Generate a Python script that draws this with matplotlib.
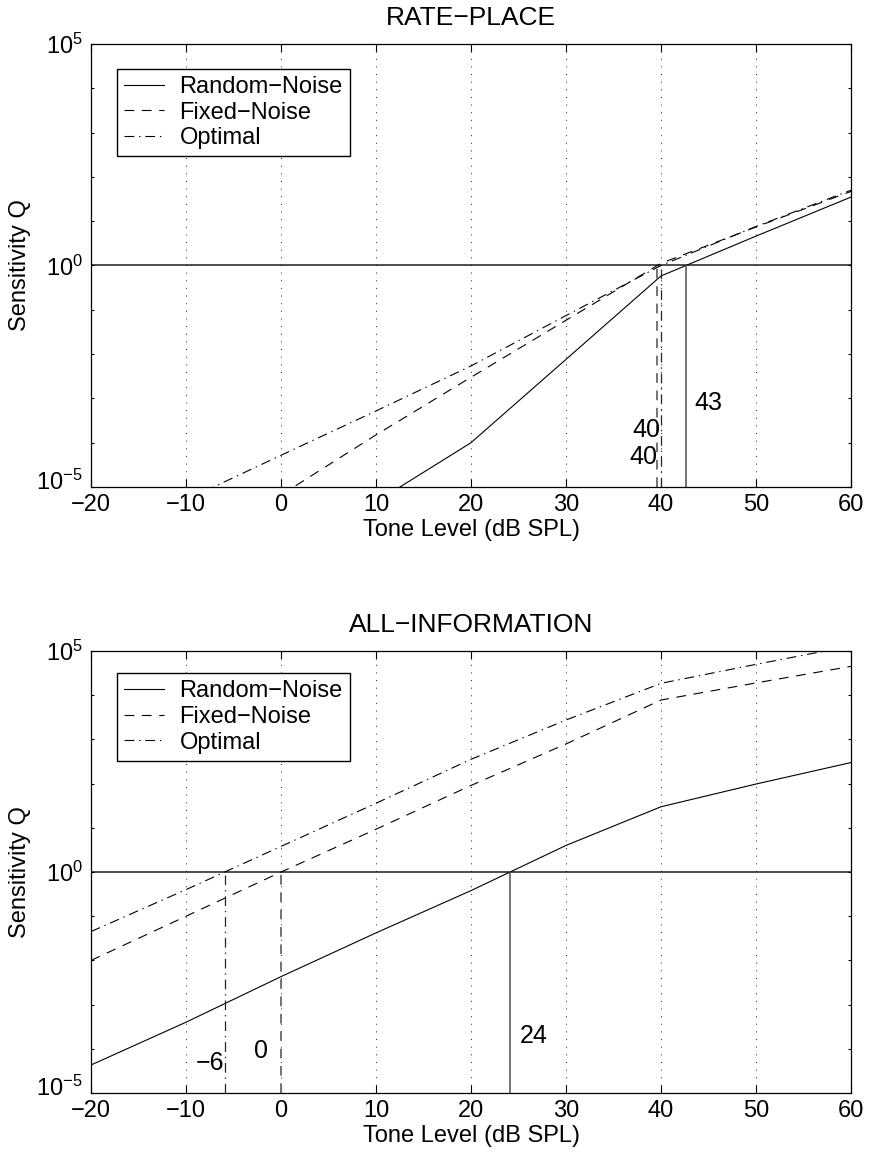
import numpy as np
import matplotlib
matplotlib.use('Agg')
import matplotlib.pyplot as plt
import matplotlib.transforms as mtransforms
from matplotlib.ticker import FixedLocator, FixedFormatter, NullLocator

plt.rcParams['font.family'] = 'Liberation Sans'
plt.rcParams['font.size'] = 17
plt.rcParams['mathtext.fontset'] = 'custom'
plt.rcParams['mathtext.rm'] = 'Liberation Sans'
plt.rcParams['mathtext.it'] = 'Liberation Sans'
plt.rcParams['lines.scale_dashes'] = False

MINUS = '\u2212'

# rate-place model, sensitivity Q vs tone level
rp_random_x = [10, 20, 30, 40, 50, 60]
rp_random_q = [4.6e-6, 1.0e-4, 7.6e-3, 0.58, 4.6, 35]
rp_fixed_x = [0, 10, 20, 30, 40, 50, 60]
rp_fixed_q = [6.6e-6, 1.5e-4, 3.0e-3, 0.058, 1.12, 7.4, 47]
rp_opt_x = [-10, 0, 10, 20, 30, 40, 50, 60]
rp_opt_q = [5.1e-6, 5.2e-5, 5.2e-4, 5.4e-3, 0.074, 1.0, 7.6, 50]

# all-information model
ai_x = [-20, -10, 0, 10, 20, 30, 40, 50, 60]
ai_random_q = [4.3e-5, 4.0e-4, 4.3e-3, 0.042, 0.38, 4.0, 30, 98, 300]
ai_fixed_q = [0.01, 0.1, 1.0, 9.3, 91, 790, 7.8e3, 1.9e4, 4.5e4]
ai_opt_q = [0.045, 0.40, 3.8, 36, 355, 2750, 1.86e4, 5.0e4, 1.3e5]

labels = ['Random' + MINUS + 'Noise', 'Fixed' + MINUS + 'Noise', 'Optimal']
styles = ['-', (0, (7, 5.5)), (0, (7, 3.5, 1, 3.5))]

# threshold labels: (series index, x offset, log10 y, alignment)
rp_labels = [(0, 0.9, -3.10, 'left'), (2, -0.1, -3.71, 'right'), (1, 0.0, -4.32, 'right')]
ai_labels = [(0, 1.0, -3.71, 'left'), (1, -1.4, -4.05, 'right'), (2, 0.0, -4.33, 'right')]


def crossing(x, q):
    # tone level where the curve reaches Q = 1 (linear in log Q)
    lq = np.log10(q)
    for i in range(len(lq) - 1):
        if lq[i] < 0 <= lq[i + 1]:
            return x[i] + (0 - lq[i]) * (x[i + 1] - x[i]) / (lq[i + 1] - lq[i])
        if lq[i] == 0:
            return x[i]
    return None


def panel(ax, title, series, text_spec, leg_top):
    handles = []
    for (x, q), ls, lab in zip(series, styles, labels):
        h, = ax.plot(x, q, color='k', lw=0.8, linestyle=ls, label=lab)
        handles.append(h)
    ax.set_yscale('log')
    ax.axhline(1, color='0.25', lw=1.3, zorder=1)

    vstyle = [dict(color='0.3', lw=1.1, linestyle='-'),
              dict(color='0.45', lw=1.4, linestyle=(0, (7, 5.5))),
              dict(color='0.15', lw=0.9, linestyle=(0, (7, 3.5, 1, 3.5)))]
    cross = [crossing(x, q) for x, q in series]
    for c, st in zip(cross, vstyle):
        ax.plot([c, c], [1e-5, 1], **st)
    for idx, dx, ly, ha in text_spec:
        c = cross[idx]
        ax.text(c + dx, 10 ** ly, str(int(round(c))).replace('-', MINUS),
                ha=ha, va='center', fontsize=18)

    ax.set_xlim(-20, 60)
    ax.set_ylim(1e-5, 1e5)
    ax.set_xticks(range(-20, 61, 10))
    ax.set_xticklabels([str(v).replace('-', MINUS) for v in range(-20, 61, 10)])
    ax.yaxis.set_major_locator(FixedLocator([10.0 ** k for k in range(-5, 6)]))
    ax.yaxis.set_minor_locator(NullLocator())
    ylabs = [''] * 11
    ylabs[0], ylabs[5], ylabs[10] = r'$10^{-5}$', r'$10^{0}$', r'$10^{5}$'
    ax.yaxis.set_major_formatter(FixedFormatter(ylabs))
    ax.tick_params(axis='both', direction='in', top=True, right=True, width=0.8)
    ax.tick_params(axis='x', length=5.5, pad=5)
    ax.tick_params(axis='y', length=2.5, pad=6)
    ax.xaxis.grid(True, linestyle=(0, (0.7, 4.8)), color='k', lw=0.6)
    for s in ax.spines.values():
        s.set_linewidth(0.9)

    # lift the lowest y label clear of the x tick labels
    lab0 = ax.yaxis.get_major_ticks()[0].label1
    lab0.set_transform(lab0.get_transform() +
                       mtransforms.ScaledTranslation(0, 5 / 72, ax.figure.dpi_scale_trans))

    ax.set_title(title, fontsize=19, pad=13.5)
    ax.set_xlabel('Tone Level (dB SPL)', labelpad=2)
    ax.set_ylabel('Sensitivity Q', labelpad=4)

    leg = ax.legend(handles=handles, loc='upper left', bbox_to_anchor=(0.034, leg_top),
                    borderaxespad=0, fancybox=False, framealpha=1, edgecolor='k',
                    handlelength=1.7, handletextpad=0.65, labelspacing=0.15,
                    borderpad=0.3, fontsize=17)
    leg.get_frame().set_linewidth(1.0)


fig = plt.figure(figsize=(8.7, 11.57), dpi=100)
ax1 = fig.add_axes([0.1046, 0.5791, 0.8736, 0.3829])
ax2 = fig.add_axes([0.1046, 0.0553, 0.8736, 0.382])

panel(ax1, 'RATE' + MINUS + 'PLACE',
      [(rp_random_x, rp_random_q), (rp_fixed_x, rp_fixed_q), (rp_opt_x, rp_opt_q)],
      rp_labels, 0.9436)
panel(ax2, 'ALL' + MINUS + 'INFORMATION',
      [(ai_x, ai_random_q), (ai_x, ai_fixed_q), (ai_x, ai_opt_q)],
      ai_labels, 0.9495)

fig.savefig('out.png', dpi=100, facecolor='white')
